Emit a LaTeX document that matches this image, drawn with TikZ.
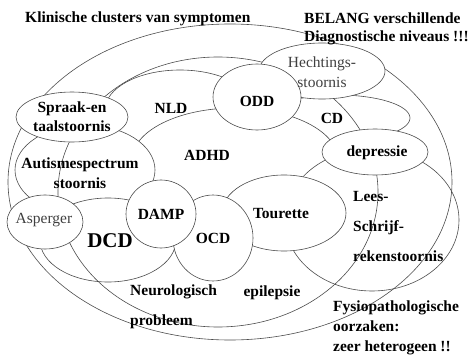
\documentclass[tikz,border=0pt]{standalone}
\usepackage{fontspec}
\setmainfont{Liberation Serif}
\usetikzlibrary{shapes.geometric}

\begin{document}
\begin{tikzpicture}
  [x=1pt,y=-1pt,
    every node/.style={font=\fontsize{15.5}{19}\selectfont\bfseries,inner sep=0pt},
    zone/.style={ellipse,draw=black!70,fill=white,line width=.6pt},
    ring/.style={ellipse,draw=black!70,line width=.6pt},
    soft/.style={font=\fontsize{15.5}{20}\selectfont,text=black!75},
  ]
  \useasboundingbox (0,0) rectangle (472,356);
  % clusters, from back to front
  \node[zone,minimum width=150pt,minimum height=80pt] (nld) at (180,110) {};
  \node[zone,minimum width=144pt,minimum height=46pt] (cd) at (338,118) {};
  \node[zone,minimum width=206pt,minimum height=104pt] (adhd) at (235,160) {};
  \node[zone,minimum width=174pt,minimum height=142pt] (lees) at (372,220) {};
  \node[zone,minimum width=140pt,minimum height=90pt] (ass) at (85,170) {};
  \node[zone,minimum width=136pt,minimum height=84pt] (dcd) at (108,240) {};
  \node[ring,minimum width=320pt,minimum height=270pt] (neuro) at (218,192) {};
  \node[ring,minimum width=444pt,minimum height=316pt] (fysio) at (230,182) {};
  \node[zone,minimum width=124pt,minimum height=76pt] (tourette) at (284,213) {};
  \node[zone,minimum width=80pt,minimum height=86pt] (ocd) at (213,238) {};
  \node[zone,minimum width=70pt,minimum height=68pt] (damp) at (161,214) {};
  \node[zone,minimum width=126pt,minimum height=56pt] (hecht) at (322,71) {};
  \node[zone,minimum width=88pt,minimum height=66pt] (odd) at (257,97) {};
  \node[zone,minimum width=106pt,minimum height=46pt] (depr) at (375,152) {};
  \node[zone,minimum width=112pt,minimum height=50pt] (spraak) at (72,117) {};
  \node[zone,minimum width=76pt,minimum height=54pt] (asp) at (45,222) {};

  % labels
  \node (ttourette) at (281,214) {Tourette};
  \node (tocd) at (213,238) {OCD};
  \node (tdamp) at (161,214) {DAMP};
  \node[soft,align=center] (thecht) at (322,72) {Hechtings-\\stoornis};
  \node (todd) at (257,101) {ODD};
  \node (tdepr) at (377,153) {depressie};
  \node[align=center] (tspraak) at (72,117) {Spraak-en\\taalstoornis};
  \node[soft] (tasp) at (44,220) {Asperger};
  \node (tnld) at (171,108) {NLD};
  \node (tadhd) at (207,155) {ADHD};
  \node (tcd) at (332,118) {CD};
  \node[align=center,font=\fontsize{15.5}{20}\selectfont\bfseries] (tass) at (80,173) {Autismespectrum\\stoornis};
  \node[font=\fontsize{21}{24}\selectfont\bfseries] (tdcd) at (110,241) {DCD};
  \node[align=left,anchor=west] (tlees) at (353,226) {Lees-\\[11pt]Schrijf-\\[11pt]rekenstoornis};
  \node[align=left,anchor=west] (tneuro) at (130,307) {Neurologisch\\[11pt]probleem};
  \node (tepi) at (272,293) {epilepsie};
  \node[anchor=west] (title) at (25,19) {Klinische clusters van symptomen};
  \node[align=left,anchor=west,font=\fontsize{15.5}{18}\selectfont\bfseries] (belang) at (304,29) {BELANG verschillende\\Diagnostische niveaus !!!};
  \node[align=left,anchor=west,font=\fontsize{15.5}{20}\selectfont\bfseries] (oorzaak) at (333,328) {Fysiopathologische\\oorzaken:\\zeer heterogeen !!};
\end{tikzpicture}
\end{document}
